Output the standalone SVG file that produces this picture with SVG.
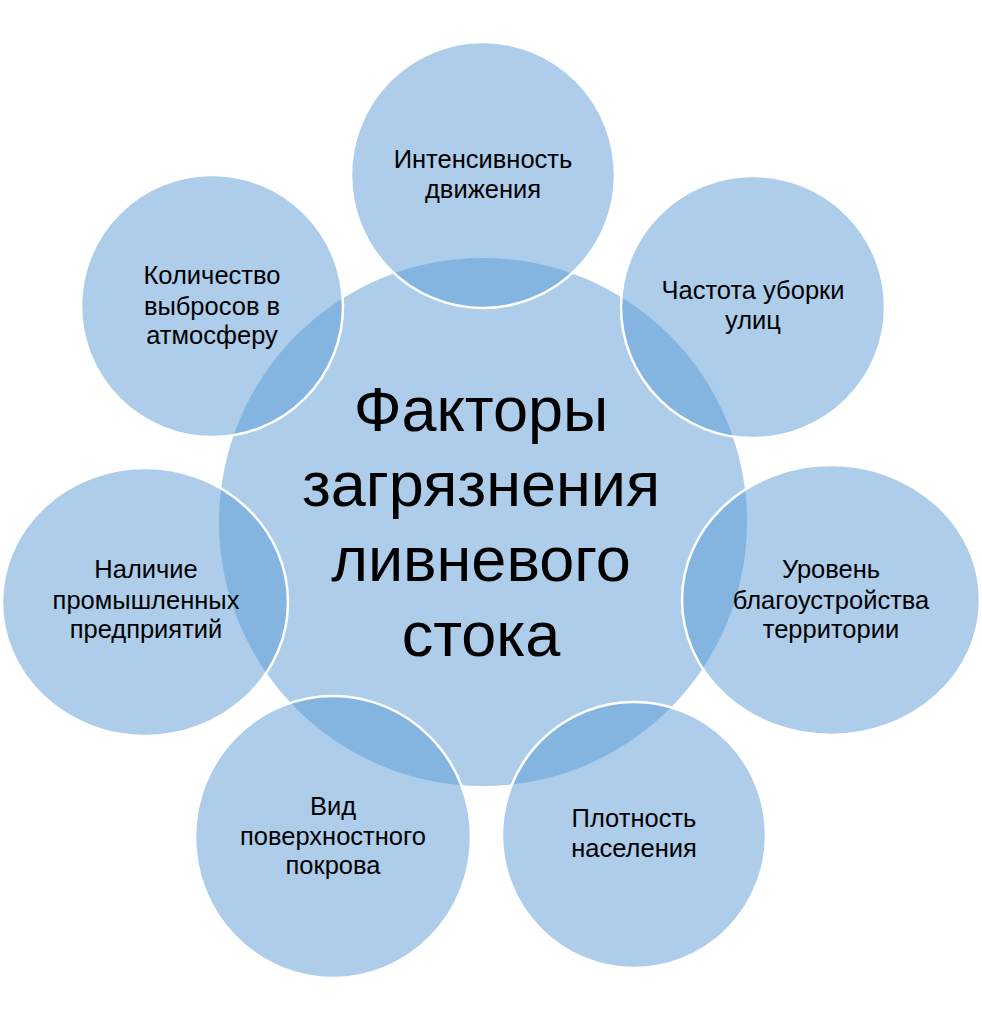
<svg xmlns="http://www.w3.org/2000/svg" width="982" height="1024" viewBox="0 0 982 1024">
  <style>
    .c { fill: #5B9BD5; fill-opacity: 0.5; }
    .o { stroke: #FFFFFF; stroke-width: 2.5; }
    .t { font-family: "Liberation Sans", Arial, sans-serif; font-size: 25.5px; fill: #000000; text-anchor: middle; }
    .big { font-family: "Liberation Sans", Arial, sans-serif; font-size: 63px; fill: #000000; text-anchor: middle; }
  </style>
  <rect width="982" height="1024" fill="#FFFFFF"/>
  <g id="center">
    <ellipse class="c" cx="483" cy="522" rx="264" ry="264"/>
    <text class="big" x="481" y="431">Факторы</text>
    <text class="big" x="481" y="506">загрязнения</text>
    <text class="big" x="481" y="581">ливневого</text>
    <text class="big" x="481" y="656">стока</text>
  </g>
  <g id="top">
    <ellipse class="c o" cx="483" cy="175" rx="132" ry="133"/>
    <text class="t" x="483" y="168">Интенсивность</text>
    <text class="t" x="483" y="198">движения</text>
  </g>
  <g id="top-right">
    <ellipse class="c o" cx="753" cy="307" rx="132" ry="131"/>
    <text class="t" x="753" y="299">Частота уборки</text>
    <text class="t" x="753" y="329">улиц</text>
  </g>
  <g id="right">
    <ellipse class="c o" cx="831" cy="600" rx="149" ry="135"/>
    <text class="t" x="831" y="578">Уровень</text>
    <text class="t" x="831" y="609">благоустройства</text>
    <text class="t" x="831" y="638">территории</text>
  </g>
  <g id="bottom-right">
    <ellipse class="c o" cx="634" cy="835" rx="132" ry="133"/>
    <text class="t" x="634" y="827">Плотность</text>
    <text class="t" x="634" y="857">населения</text>
  </g>
  <g id="bottom-left">
    <ellipse class="c o" cx="333" cy="837" rx="138" ry="141"/>
    <text class="t" x="333" y="815">Вид</text>
    <text class="t" x="333" y="845">поверхностного</text>
    <text class="t" x="333" y="874">покрова</text>
  </g>
  <g id="left">
    <ellipse class="c o" cx="145" cy="602" rx="143" ry="134"/>
    <text class="t" x="146" y="578">Наличие</text>
    <text class="t" x="146" y="609">промышленных</text>
    <text class="t" x="146" y="638">предприятий</text>
  </g>
  <g id="top-left">
    <ellipse class="c o" cx="212" cy="306" rx="131" ry="131"/>
    <text class="t" x="212" y="284">Количество</text>
    <text class="t" x="212" y="315">выбросов в</text>
    <text class="t" x="212" y="344">атмосферу</text>
  </g>
  <g id="connectors"/>
</svg>
